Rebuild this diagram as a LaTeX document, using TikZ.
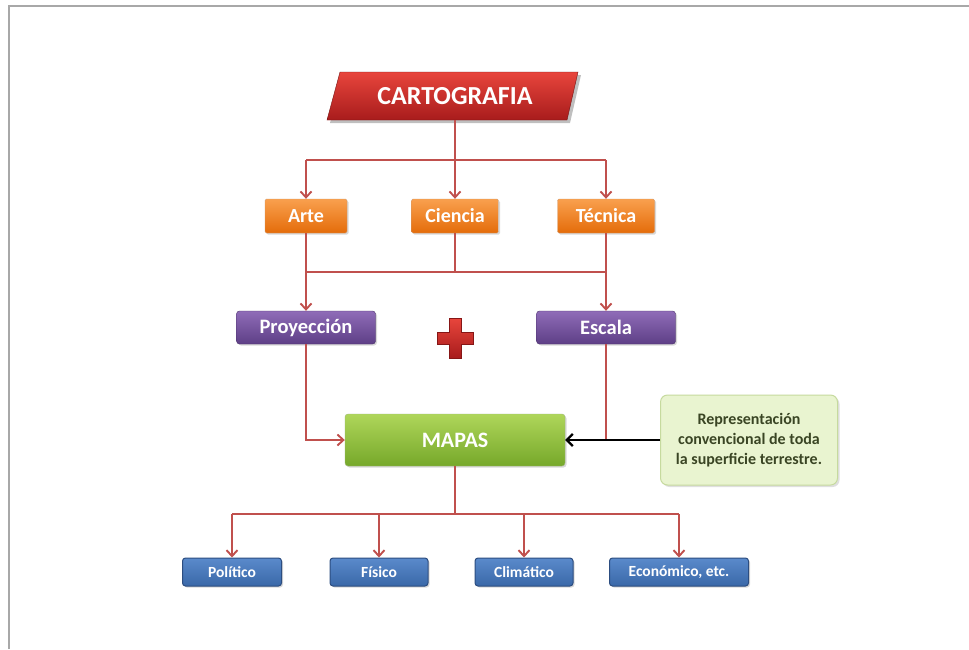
\documentclass[tikz,border=0pt]{standalone}
\usepackage{fontspec}
\setmainfont{Carlito}
\usetikzlibrary{arrows.meta,shadows}
\definecolor{linered}{HTML}{C0504D}
\definecolor{redtop}{HTML}{E8453C}
\definecolor{redbot}{HTML}{A81C1C}
\definecolor{orgtop}{HTML}{F9A04E}
\definecolor{orgbot}{HTML}{E46C0A}
\definecolor{purtop}{HTML}{8F6CB8}
\definecolor{purbot}{HTML}{5E3F86}
\definecolor{grntop}{HTML}{AFD65A}
\definecolor{grnbot}{HTML}{76A82A}
\definecolor{blutop}{HTML}{5A8ACB}
\definecolor{blubot}{HTML}{3A68A8}
\definecolor{bluedge}{HTML}{2C4D80}
\definecolor{callfill}{HTML}{E9F4D0}
\definecolor{calledge}{HTML}{C6DA9E}
\definecolor{calltext}{HTML}{3A4524}
\definecolor{frame}{HTML}{A8A8A8}
\begin{document}
\begin{tikzpicture}[x=1pt,y=-1pt,
  conn/.style={draw=linered, line width=1.9pt},
  arr/.style={conn, -{Straight Barb[length=6pt,width=11pt,line width=1.9pt]}},
  blackarr/.style={draw=black, line width=2.2pt, -{Straight Barb[length=6pt,width=12pt,line width=2.2pt]}},
  box/.style={rounded corners=1.5pt, inner sep=0pt, text=white, align=center,
    drop shadow={shadow xshift=1.5pt, shadow yshift=-1.5pt, opacity=0.3}},
  orgbox/.style={box, top color=orgtop, bottom color=orgbot, draw=orgbot!80!black!60,
    minimum height=34pt, font=\fontsize{20}{22}\selectfont\bfseries},
  purbox/.style={box, top color=purtop, bottom color=purbot, draw=purbot!80!black,
    minimum width=139pt, minimum height=33pt, rounded corners=3pt, font=\fontsize{20.5}{22}\selectfont\bfseries},
  grnbox/.style={box, top color=grntop, bottom color=grnbot, draw=grnbot!80!black!60,
    minimum width=220pt, minimum height=52pt, rounded corners=3pt, font=\fontsize{22}{24}\selectfont\bfseries},
  blubox/.style={box, top color=blutop, bottom color=blubot, draw=bluedge, line width=1pt,
    minimum height=28pt, rounded corners=3pt, font=\fontsize{15.5}{17}\selectfont\bfseries},
  callbox/.style={fill=callfill, draw=calledge, line width=1pt, rounded corners=7pt,
    minimum width=177pt, minimum height=90pt, align=center, text=calltext,
    font=\fontsize{16}{20}\selectfont\bfseries,
    drop shadow={shadow xshift=2pt, shadow yshift=-2pt, opacity=0.25}}
]
\useasboundingbox (0,0) rectangle (969,649);
\fill[white] (0,0) rectangle (969,649);
% frame lines
\draw[frame, line width=1.3pt] (9,649) -- (9,6) -- (969,6);

% CARTOGRAFIA parallelogram
\fill[black, opacity=0.25] (330,123) -- (570,123) -- (581,75) -- (343,75) -- cycle;
\shade[top color=redtop, bottom color=redbot, draw=redbot!70!black]
  (327,120) -- (567,120) -- (578,72) -- (340,72) -- cycle;
\node[text=white, font=\fontsize{26}{28}\selectfont\bfseries, minimum width=240pt, minimum height=48pt, inner sep=0pt]
  (cart) at (455,96) {CARTOGRAFIA};

% orange boxes
\node[orgbox, minimum width=82pt] (arte) at (306,216) {Arte};
\node[orgbox, minimum width=87pt] (ciencia) at (455,216) {Ciencia};
\node[orgbox, minimum width=97pt] (tecnica) at (606,216) {Técnica};

% purple boxes
\node[purbox] (proy) at (306,327.5) {Proyección};
\node[purbox] (escala) at (606,327.5) {Escala};

% plus sign
\shade[top color=redtop, bottom color=redbot, draw=redbot!80!black, line width=0.5pt]
  (449,318) -- (461,318) -- (461,332) -- (473,332) -- (473,344) -- (461,344) -- (461,358)
  -- (449,358) -- (449,344) -- (437,344) -- (437,332) -- (449,332) -- cycle;

% MAPAS and callout
\node[grnbox] (mapas) at (455,440) {MAPAS};
\node[callbox] (call) at (749,440) {Representación\\convencional de toda\\la superficie terrestre.};

% bottom boxes
\node[blubox, minimum width=99pt] (pol) at (232,572) {Político};
\node[blubox, minimum width=98pt] (fis) at (379,572) {Físico};
\node[blubox, minimum width=98pt] (cli) at (524,572) {Climático};
\node[blubox, minimum width=139pt] (eco) at (679,572) {Económico, etc.};

% connectors top
\coordinate (t1) at (455,160);
\draw[conn] (cart.south -| t1) -- (t1);
\draw[conn] (arte.north |- t1) -- (tecnica.north |- t1);
\draw[arr] (arte.north |- t1) -- (arte.north);
\draw[arr] (t1) -- (ciencia.north);
\draw[arr] (tecnica.north |- t1) -- (tecnica.north);

% connectors middle
\coordinate (t2) at (455,272);
\draw[conn] (arte.south) -- (arte.south |- t2) -- (tecnica.south |- t2) -- (tecnica.south);
\draw[conn] (ciencia.south) -- (t2);
\draw[arr] (arte.south |- t2) -- (proy.north);
\draw[arr] (tecnica.south |- t2) -- (escala.north);

% to MAPAS
\draw[arr] (proy.south) |- (mapas.west);
\draw[conn] (escala.south) -- (escala.south |- mapas.east);
\draw[blackarr] (call.west) -- (mapas.east);

% bottom connectors
\coordinate (t3) at (455,514);
\draw[conn] (mapas.south) -- (t3);
\draw[conn] (pol.north |- t3) -- (eco.north |- t3);
\draw[arr] (pol.north |- t3) -- (pol.north);
\draw[arr] (fis.north |- t3) -- (fis.north);
\draw[arr] (cli.north |- t3) -- (cli.north);
\draw[arr] (eco.north |- t3) -- (eco.north);
\end{tikzpicture}
\end{document}
